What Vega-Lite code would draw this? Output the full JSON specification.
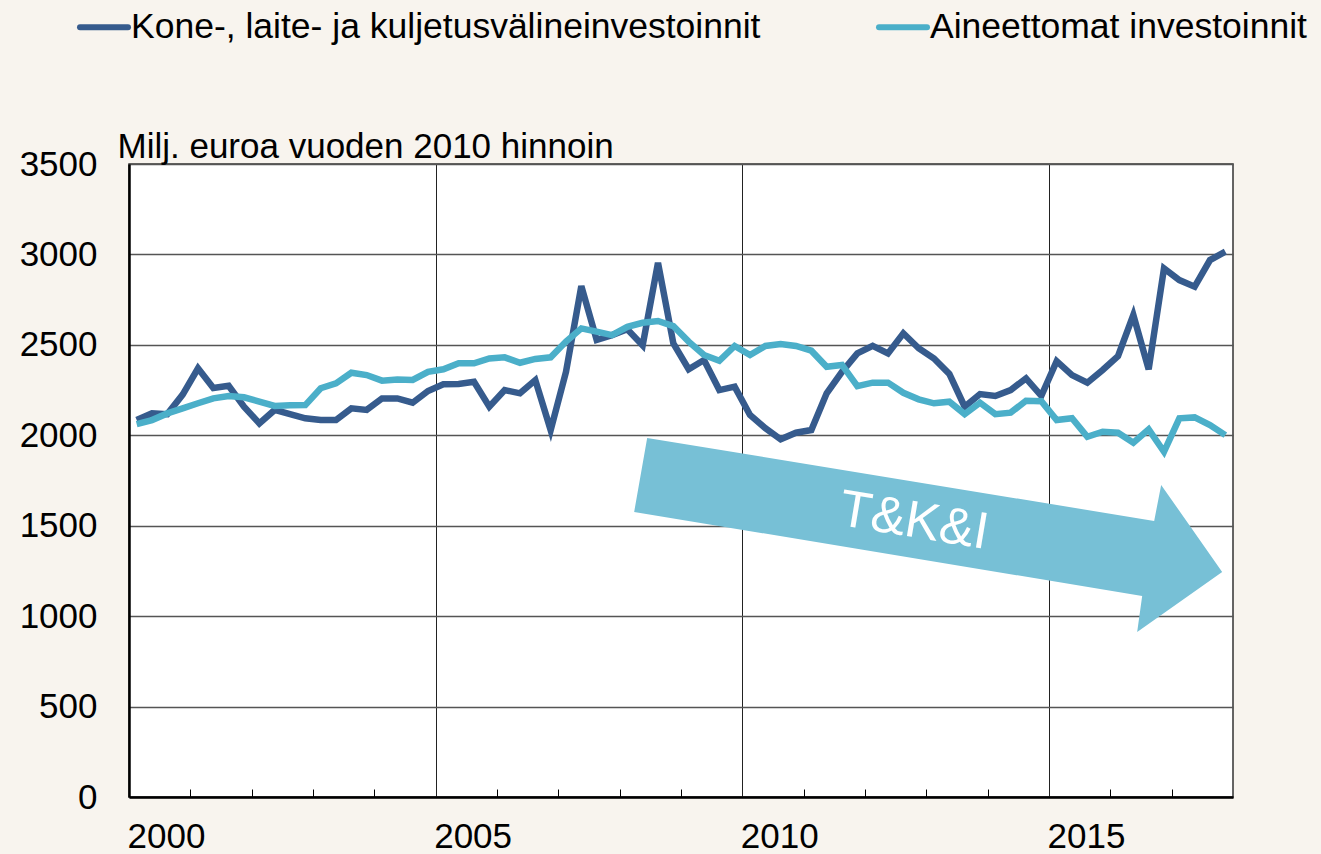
{
  "$schema": "https://vega.github.io/schema/vega-lite/v6.json",
  "autosize": {"type": "none"},
  "padding": {"left": 129, "top": 164, "right": 88, "bottom": 57},
  "width": 1104,
  "height": 633,
  "background": "#F8F4EE",
  "config": {
    "font": "Liberation Sans",
    "view": {"stroke": "#333333", "strokeWidth": 1.5, "fill": "white"},
    "legend": {"labelFont": "Liberation Sans"}
  },
  "datasets": {
    "main": [
      {"t": 2000.125, "Kone": 2084, "Aine": 2062},
      {"t": 2000.375, "Kone": 2121, "Aine": 2084},
      {"t": 2000.625, "Kone": 2117, "Aine": 2121},
      {"t": 2000.875, "Kone": 2225, "Aine": 2149},
      {"t": 2001.125, "Kone": 2370, "Aine": 2177},
      {"t": 2001.375, "Kone": 2261, "Aine": 2204},
      {"t": 2001.625, "Kone": 2274, "Aine": 2217},
      {"t": 2001.875, "Kone": 2158, "Aine": 2210},
      {"t": 2002.125, "Kone": 2066, "Aine": 2186},
      {"t": 2002.375, "Kone": 2140, "Aine": 2162},
      {"t": 2002.625, "Kone": 2117, "Aine": 2166},
      {"t": 2002.875, "Kone": 2094, "Aine": 2167},
      {"t": 2003.125, "Kone": 2084, "Aine": 2260},
      {"t": 2003.375, "Kone": 2084, "Aine": 2287},
      {"t": 2003.625, "Kone": 2149, "Aine": 2346},
      {"t": 2003.875, "Kone": 2140, "Aine": 2333},
      {"t": 2004.125, "Kone": 2204, "Aine": 2302},
      {"t": 2004.375, "Kone": 2204, "Aine": 2309},
      {"t": 2004.625, "Kone": 2180, "Aine": 2306},
      {"t": 2004.875, "Kone": 2245, "Aine": 2351},
      {"t": 2005.125, "Kone": 2282, "Aine": 2365},
      {"t": 2005.375, "Kone": 2284, "Aine": 2398},
      {"t": 2005.625, "Kone": 2296, "Aine": 2398},
      {"t": 2005.875, "Kone": 2158, "Aine": 2425},
      {"t": 2006.125, "Kone": 2250, "Aine": 2431},
      {"t": 2006.375, "Kone": 2232, "Aine": 2401},
      {"t": 2006.625, "Kone": 2305, "Aine": 2422},
      {"t": 2006.875, "Kone": 2029, "Aine": 2431},
      {"t": 2007.125, "Kone": 2351, "Aine": 2518},
      {"t": 2007.375, "Kone": 2825, "Aine": 2591},
      {"t": 2007.625, "Kone": 2527, "Aine": 2573},
      {"t": 2007.875, "Kone": 2554, "Aine": 2554},
      {"t": 2008.125, "Kone": 2586, "Aine": 2600},
      {"t": 2008.375, "Kone": 2497, "Aine": 2622},
      {"t": 2008.625, "Kone": 2954, "Aine": 2632},
      {"t": 2008.875, "Kone": 2508, "Aine": 2604},
      {"t": 2009.125, "Kone": 2365, "Aine": 2518},
      {"t": 2009.375, "Kone": 2416, "Aine": 2444},
      {"t": 2009.625, "Kone": 2250, "Aine": 2412},
      {"t": 2009.875, "Kone": 2269, "Aine": 2494},
      {"t": 2010.125, "Kone": 2112, "Aine": 2444},
      {"t": 2010.375, "Kone": 2039, "Aine": 2494},
      {"t": 2010.625, "Kone": 1978, "Aine": 2505},
      {"t": 2010.875, "Kone": 2014, "Aine": 2494},
      {"t": 2011.125, "Kone": 2029, "Aine": 2468},
      {"t": 2011.375, "Kone": 2232, "Aine": 2379},
      {"t": 2011.625, "Kone": 2351, "Aine": 2389},
      {"t": 2011.875, "Kone": 2453, "Aine": 2272},
      {"t": 2012.125, "Kone": 2494, "Aine": 2291},
      {"t": 2012.375, "Kone": 2453, "Aine": 2291},
      {"t": 2012.625, "Kone": 2564, "Aine": 2235},
      {"t": 2012.875, "Kone": 2481, "Aine": 2199},
      {"t": 2013.125, "Kone": 2425, "Aine": 2177},
      {"t": 2013.375, "Kone": 2339, "Aine": 2186},
      {"t": 2013.625, "Kone": 2158, "Aine": 2117},
      {"t": 2013.875, "Kone": 2228, "Aine": 2180},
      {"t": 2014.125, "Kone": 2217, "Aine": 2117},
      {"t": 2014.375, "Kone": 2250, "Aine": 2125},
      {"t": 2014.625, "Kone": 2315, "Aine": 2191},
      {"t": 2014.875, "Kone": 2218, "Aine": 2188},
      {"t": 2015.125, "Kone": 2410, "Aine": 2084},
      {"t": 2015.375, "Kone": 2333, "Aine": 2094},
      {"t": 2015.625, "Kone": 2291, "Aine": 1992},
      {"t": 2015.875, "Kone": 2361, "Aine": 2020},
      {"t": 2016.125, "Kone": 2438, "Aine": 2014},
      {"t": 2016.375, "Kone": 2665, "Aine": 1959},
      {"t": 2016.625, "Kone": 2365, "Aine": 2033},
      {"t": 2016.875, "Kone": 2923, "Aine": 1909},
      {"t": 2017.125, "Kone": 2858, "Aine": 2094},
      {"t": 2017.375, "Kone": 2822, "Aine": 2099},
      {"t": 2017.625, "Kone": 2969, "Aine": 2057},
      {"t": 2017.875, "Kone": 3015, "Aine": 2001}
    ],
    "arrow": [{"x": 2013.03, "y": 1449}],
    "label": [{"x": 2012.8, "y": 1526, "text": "T&K&I"}]
  },
  "layer": [
    {
      "data": {"name": "arrow"},
      "mark": {
        "type": "point",
        "shape": "M-281,-97L226,-14L233,-50L294,37L209,97L214,61L-294,-23Z",
        "size": 4,
        "filled": true,
        "fill": "#77C0D6",
        "opacity": 1,
        "strokeWidth": 0
      },
      "encoding": {
        "x": {
          "field": "x", "type": "quantitative",
          "scale": {"domain": [2000, 2018], "nice": false, "zero": false},
          "axis": {
            "orient": "bottom",
            "values": [2001, 2002, 2003, 2004, 2006, 2007, 2008, 2009, 2011, 2012, 2013, 2014, 2016, 2017],
            "labels": false, "grid": false, "domain": false, "title": null,
            "ticks": true, "tickSize": -8, "tickColor": "#000000", "tickWidth": 1
          }
        },
        "y": {
          "field": "y", "type": "quantitative",
          "scale": {"domain": [0, 3500], "nice": false}
        }
      }
    },
    {
      "data": {"name": "label"},
      "mark": {
        "type": "text",
        "fontSize": 52,
        "color": "white",
        "angle": 9.5,
        "align": "center",
        "baseline": "middle",
        "font": "Liberation Sans"
      },
      "encoding": {
        "x": {"field": "x", "type": "quantitative", "scale": {"domain": [2000, 2018], "nice": false, "zero": false}, "axis": null},
        "y": {"field": "y", "type": "quantitative", "scale": {"domain": [0, 3500], "nice": false}},
        "text": {"field": "text"}
      }
    },
    {
      "data": {"name": "main"},
      "transform": [{"fold": ["Kone", "Aine"], "as": ["series", "value"]}],
      "mark": {"type": "line", "strokeWidth": 6.5, "strokeJoin": "miter"},
      "encoding": {
        "x": {
          "field": "t", "type": "quantitative",
          "scale": {"domain": [2000, 2018], "nice": false, "zero": false},
          "axis": {
            "orient": "bottom",
            "values": [2000, 2005, 2010, 2015],
            "format": "d",
            "title": null,
            "grid": true, "gridColor": "#222222", "gridWidth": 1,
            "ticks": false,
            "domain": true, "domainColor": "#000000", "domainWidth": 2.5,
            "labelAlign": "left", "labelBaseline": "top",
            "labelFontSize": 35, "labelColor": "#000000", "labelPadding": 22,
            "labelOffset": -2,
            "labelFont": "Liberation Sans", "labelFlush": false
          }
        },
        "y": {
          "field": "value", "type": "quantitative",
          "scale": {"domain": [0, 3500], "nice": false},
          "axis": {
            "values": [0, 500, 1000, 1500, 2000, 2500, 3000, 3500],
            "format": "d",
            "title": "Milj. euroa vuoden 2010 hinnoin",
            "titleAngle": 0, "titleX": -12, "titleY": -7,
            "titleAlign": "left", "titleBaseline": "alphabetic",
            "titleFontSize": 35, "titleFontWeight": "normal", "titleColor": "#000000",
            "titleFont": "Liberation Sans",
            "grid": true, "gridColor": "#555555", "gridWidth": 1.5,
            "ticks": false,
            "domain": true, "domainColor": "#000000", "domainWidth": 2.5,
            "labelFontSize": 35, "labelColor": "#000000", "labelPadding": 32,
            "labelFont": "Liberation Sans", "labelFlush": false
          }
        },
        "color": {
          "field": "series", "type": "nominal",
          "scale": {"domain": ["Kone", "Aine"], "range": ["#365B8D", "#4BAFC9"]},
          "legend": {
            "orient": "none",
            "legendX": -52,
            "legendY": -164,
            "direction": "horizontal",
            "title": null,
            "symbolType": "stroke",
            "symbolSize": 2304,
            "symbolStrokeWidth": 6,
            "labelFontSize": 35.5,
            "labelColor": "#000000",
            "labelLimit": 0,
            "labelOffset": 0,
            "columnPadding": 106,
            "padding": 0,
            "labelExpr": "datum.label == 'Kone' ? 'Kone-, laite- ja kuljetusvälineinvestoinnit' : 'Aineettomat investoinnit'",
            "encode": {"symbols": {"update": {"strokeCap": {"value": "round"}}}}
          }
        }
      }
    }
  ],
  "resolve": {"axis": {"x": "independent"}}
}
